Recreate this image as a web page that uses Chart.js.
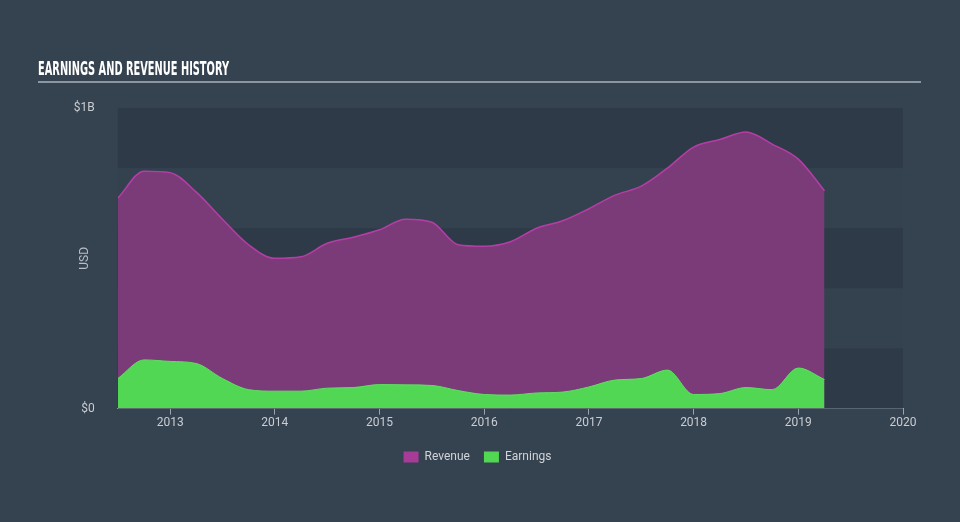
<!DOCTYPE html>
<html lang="en">
    <head>
        <meta charset="utf-8"/>
        <title>Earnings and Revenue History</title>
        <script src="https://cdn.jsdelivr.net/npm/chart.js@4.4.1/dist/chart.umd.min.js"></script>
        <style>
            html, body { margin: 0; padding: 0; background: #35424f; }
            #wrap { position: relative; width: 960px; height: 522px; }
        </style>
    </head>
    <body>
        <div id="wrap">
            <canvas id="chart" width="960" height="522"></canvas>
        </div>

        <script>
            // quarterly points (year fractions), values in billions USD
            const quarters = [2012.5, 2012.75, 2013, 2013.25, 2013.5, 2013.75, 2014, 2014.25, 2014.5, 2014.75,
                              2015, 2015.25, 2015.5, 2015.75, 2016, 2016.25, 2016.5, 2016.75, 2017, 2017.25,
                              2017.5, 2017.75, 2018, 2018.25, 2018.5, 2018.75, 2019, 2019.25];
            const revenue = [0.70, 0.79, 0.785, 0.72, 0.63, 0.545, 0.50, 0.505, 0.55, 0.57,
                             0.595, 0.63, 0.62, 0.545, 0.54, 0.555, 0.60, 0.625, 0.665, 0.71,
                             0.74, 0.80, 0.87, 0.895, 0.92, 0.88, 0.83, 0.725];
            const earnings = [0.10, 0.162, 0.157, 0.15, 0.10, 0.063, 0.058, 0.058, 0.068, 0.07,
                              0.08, 0.079, 0.077, 0.06, 0.047, 0.045, 0.052, 0.055, 0.072, 0.095,
                              0.10, 0.128, 0.047, 0.05, 0.07, 0.063, 0.135, 0.097];
            const years = [2013, 2014, 2015, 2016, 2017, 2018, 2019, 2020];

            const pts = (vals) => quarters.map((q, i) => ({x: q, y: vals[i]}));

            // background bands + title rule
            const decor = {
                id: 'decor',
                beforeDatasetsDraw(chart) {
                    const {ctx, chartArea: a, scales: {y}} = chart;
                    ctx.save();
                    for (let i = 0; i < 5; i++) {
                        const top = y.getPixelForValue(1 - i * 0.2);
                        const bot = y.getPixelForValue(0.8 - i * 0.2);
                        ctx.fillStyle = i % 2 === 0 ? '#2e3a48' : '#344250';
                        ctx.fillRect(a.left, top, a.right - a.left, bot - top);
                    }
                    ctx.restore();
                },
                afterDraw(chart) {
                    const ctx = chart.ctx;
                    ctx.save();
                    ctx.font = 'bold 20px "Liberation Sans Narrow", "DejaVu Sans Condensed", sans-serif';
                    const txt = 'EARNINGS AND REVENUE HISTORY';
                    const w = ctx.measureText(txt).width;
                    ctx.translate(38, 75);
                    ctx.scale(191 / w, 1);
                    ctx.fillStyle = '#ffffff';
                    ctx.textBaseline = 'alphabetic';
                    ctx.fillText(txt, 0, 0);
                    ctx.restore();
                    ctx.save();
                    ctx.strokeStyle = '#aab3bd';
                    ctx.lineWidth = 1.5;
                    ctx.beginPath();
                    ctx.moveTo(38, 82);
                    ctx.lineTo(921, 82);
                    ctx.stroke();
                    ctx.restore();
                }
            };

            const ctx = document.getElementById('chart').getContext('2d');
            new Chart(ctx, {
                type: 'line',
                data: {
                    datasets: [
                        {
                            label: 'Revenue',
                            data: pts(revenue),
                            borderColor: '#b53ea6',
                            backgroundColor: '#7b3a78',
                            borderWidth: 1.5,
                            fill: 'origin',
                            pointRadius: 0,
                            cubicInterpolationMode: 'monotone',
                            order: 1
                        },
                        {
                            label: 'Earnings',
                            data: pts(earnings),
                            borderColor: '#5ee060',
                            backgroundColor: '#52d755',
                            borderWidth: 1,
                            fill: 'origin',
                            pointRadius: 0,
                            cubicInterpolationMode: 'monotone',
                            order: 0
                        }
                    ]
                },
                options: {
                    responsive: false,
                    animation: false,
                    layout: { padding: { top: 108, left: 52, right: 57, bottom: 49 } },
                    plugins: {
                        tooltip: { enabled: false },
                        legend: {
                            position: 'bottom',
                            labels: {
                                color: '#d0d4d9',
                                font: { family: 'Roboto', size: 12 },
                                boxWidth: 15,
                                boxHeight: 11,
                                padding: 14,
                                sort: (a, b) => a.datasetIndex - b.datasetIndex,
                                generateLabels: (chart) => chart.data.datasets.map((d, i) => ({
                                    text: d.label,
                                    fillStyle: i === 0 ? '#a63b98' : '#52d755',
                                    strokeStyle: 'transparent',
                                    lineWidth: 0,
                                    fontColor: '#d0d4d9',
                                    datasetIndex: i
                                }))
                            }
                        }
                    },
                    scales: {
                        x: {
                            type: 'linear',
                            min: 2012.5,
                            max: 2020,
                            afterBuildTicks: (s) => { s.ticks = years.map(v => ({value: v})); },
                            afterFit: (s) => { s.height += 6; },
                            grid: { drawOnChartArea: false, color: '#9aa4ae', tickLength: 6 },
                            border: { color: '#9aa4ae', width: 1 },
                            ticks: {
                                color: '#c8cdd3',
                                font: { family: 'Roboto', size: 12 },
                                padding: 1,
                                maxRotation: 0,
                                callback: (v) => String(v)
                            }
                        },
                        y: {
                            min: 0,
                            max: 1,
                            afterFit: (s) => { s.width = 65.8; },
                            grid: { display: false },
                            border: { display: false },
                            ticks: {
                                stepSize: 0.2,
                                color: '#c8cdd3',
                                font: { family: 'Roboto', size: 12 },
                                padding: 15,
                                callback: (v) => v === 0 ? '$0' : (v === 1 ? '$1B' : '')
                            },
                            title: {
                                display: true,
                                text: 'USD',
                                color: '#b8bec5',
                                font: { family: 'Roboto', size: 12 },
                                padding: { top: 26, bottom: 0 }
                            }
                        }
                    }
                },
                plugins: [decor]
            });
        </script>
    </body>
</html>
